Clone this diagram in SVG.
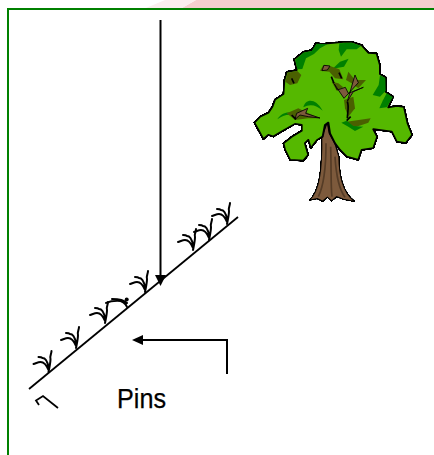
<svg xmlns="http://www.w3.org/2000/svg" width="434" height="455" viewBox="0 0 434 455">
<defs>
<style>
.ln{fill:none;stroke:#000;stroke-width:2}
.pin{fill:none;stroke:#000;stroke-width:2;stroke-linecap:round;stroke-linejoin:round}
.dk{fill:#008000}
.ol{fill:#4a6000}
.br{fill:#7d5a3c;stroke:#000;stroke-width:2.5}
</style>
<filter id="round" x="-5%" y="-5%" width="110%" height="110%" color-interpolation-filters="sRGB">
<feGaussianBlur stdDeviation="1.6"/>
<feColorMatrix type="matrix" values="1 0 0 0 0 0 1 0 0 0 0 0 1 0 0 0 0 0 6 -2.5"/>
</filter>
<g id="p"><path class="pin" d="M0 -2C-2 -7 -5 -10 -8 -10C-10 -10 -12 -9 -15 -8M0 -5C-1 -10 -3 -14 -6 -14C-7 -15 -9 -15 -10 -15M0 0C1 -5 2 -9 2 -13C1 -16 3 -18 3 -21"/></g>
</defs>
<rect width="434" height="455" fill="#fff"/>
<path d="M182 8L196 0H434V8Z" fill="#f5cfcf"/>
<path d="M146 8L165 0H196L182 8Z" fill="#fbeeee"/>
<path d="M8 455V9H434" fill="none" stroke="#008000" stroke-width="2"/>
<g id="tree" transform="translate(240 0) scale(.33333)" filter="url(#round)">
<path d="M245 410L262 366L268 400L285 430L297 470C298 520 305 575 345 605L310 598L290 590L275 603L262 592L248 604L232 596L207 601C238 575 246 510 245 410Z" fill="#7d5a3c" stroke="#000" stroke-width="4"/>
<path d="M258 430C258 500 250 560 235 590M272 440C274 500 272 560 276 590M285 470C288 520 295 565 315 592" fill="none" stroke="#553c26" stroke-width="5"/>
<path d="M43 368L60 350L85 338L97 320L105 298L130 282L133 240L140 215L170 210L162 178L190 155L215 150L228 128L245 132L262 130L280 128L295 127L310 125L335 125L365 135L385 158L410 160L420 195L420 222L438 232L437 275L460 290L445 322L470 317L492 320L503 370L517 405L497 430L470 425L455 395L400 388L412 410L400 445L365 450L355 480L320 470L300 450L285 430L270 400L265 368L255 375L248 410L232 420L212 445L205 420L195 430L205 465L190 482L150 480L135 450L130 430L155 410L185 392L185 375L165 372L125 395L100 410L85 405L70 418L55 390Z" fill="#55b800" stroke="#000" stroke-width="6" stroke-linejoin="round"/>
<g id="shade">
<path class="dk" d="M166 180L190 158L215 153L230 131L262 133L240 145L222 162L198 175L187 207L172 208Z"/>
<path class="ol" d="M136 245L143 218L172 213L184 225L172 250L150 255Z"/>
<path class="dk" d="M298 130L335 128L363 138L350 148L320 148L303 170L296 150Z"/>
<path class="dk" d="M326 176L300 185L278 206L312 200Z"/>
<path class="dk" d="M436 235L420 226L416 255L398 285L420 290L437 272Z"/>
<path class="dk" d="M458 292L440 280L428 302L418 325L440 322Z"/>
<path class="dk" d="M190 322C195 298 225 290 248 332C230 315 210 310 190 322Z"/>
<path class="dk" d="M112 358C125 335 155 330 172 350C155 340 130 342 112 358Z"/>
<path class="ol" d="M240 212L250 195L270 198L298 208L310 238L285 235L268 215Z"/>
<path class="ol" d="M318 240L325 215L345 240L378 240L355 265L335 250Z"/>
<path class="ol" d="M312 300L340 290L345 325L325 350L315 325Z"/>
<path class="ol" d="M275 245L290 272L310 262L295 250Z"/>
<path class="ol" d="M320 365L392 355L385 368L345 382L325 378Z"/>
<path class="dk" d="M304 368L325 380L345 393L370 380L340 378L320 362Z"/>
<path class="ol" d="M140 340L175 325L205 340L240 355L205 355L165 360Z"/>
</g>
<g id="branches">
<path class="br" d="M246 212L252 196L270 198L262 210Z"/>
<path class="br" d="M283 252L292 270L316 262L325 280L370 262L340 275L322 304L345 225L355 248L335 270L312 295Z"/>
<path class="br" d="M170 340L203 325L197 340L240 354L205 350L180 345L165 358Z"/>
<path d="M274 230L282 250M297 218L305 235M322 305C328 320 322 340 322 355M332 350L320 362M155 235L162 250M155 345L168 358" fill="none" stroke="#000" stroke-width="5"/>
</g>
</g>
<g id="connectors">
<path class="ln" d="M160.5 20V276"/>
<path d="M155 275H166L160.5 286Z" fill="#000"/>
<path class="ln" d="M227 374V340H141"/>
<path d="M132 340L143 335V345Z" fill="#000"/>
<path d="M29 389L238 217" fill="none" stroke="#000" stroke-width="1.8"/>
<path d="M58 408L43 396L36 400.5L39 405" fill="none" stroke="#000" stroke-width="1.8"/>
</g>
<g id="pins">
<use href="#p" transform="translate(48.5 372)"/>
<use href="#p" transform="translate(76 348)"/>
<use href="#p" transform="translate(105 323)"/>
<path class="pin" d="M127 307C125 302 120 300 114 301C111 301 109 302 106 303M127 303C124 300 119 299 112 299"/>
<circle cx="126.7" cy="299.5" r="2" fill="#000"/>
<use href="#p" transform="translate(145 292)"/>
<use href="#p" transform="translate(193 250)"/>
<use href="#p" transform="translate(209 240)"/>
<use href="#p" transform="translate(227 224)"/>
</g>
<text id="label" x="117" y="408" font-family="'Liberation Sans',Arial,sans-serif" font-size="27" textLength="49" lengthAdjust="spacingAndGlyphs" fill="#000" stroke="#000" stroke-width=".25">Pins</text>
</svg>
